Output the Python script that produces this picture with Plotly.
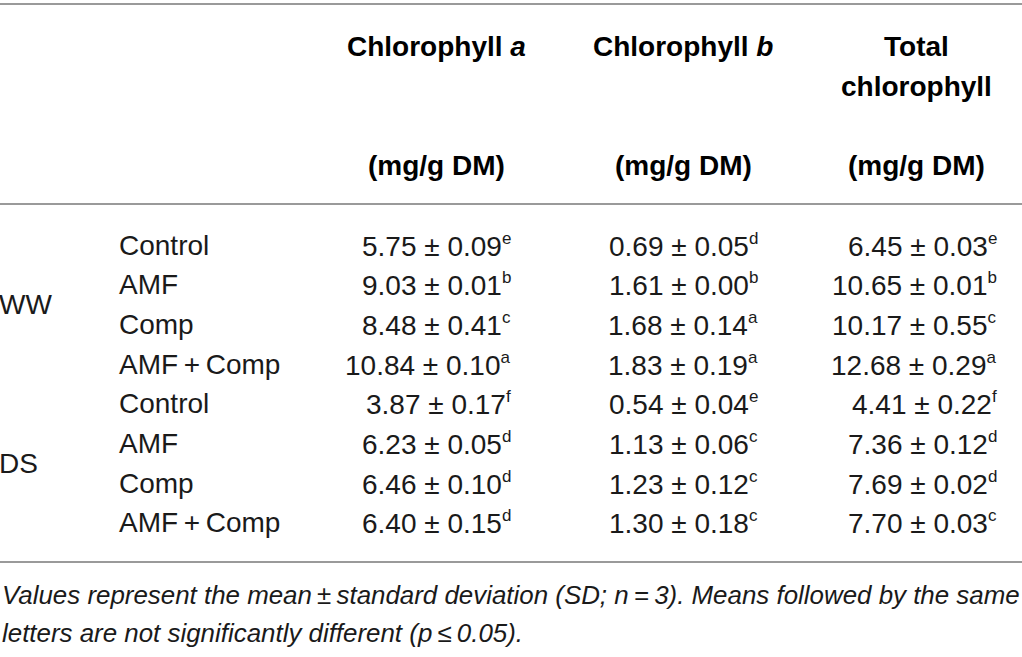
import plotly.graph_objects as go

# ---- data ----
groups = ["WW", "DS"]
treatments = ["Control", "AMF", "Comp", "AMF\u2009+\u2009Comp"] * 2
chl_a_mean = ["5.75", "9.03", "8.48", "10.84", "3.87", "6.23", "6.46", "6.40"]
chl_a_sd = ["0.09", "0.01", "0.41", "0.10", "0.17", "0.05", "0.10", "0.15"]
chl_a_let = ["e", "b", "c", "a", "f", "d", "d", "d"]
chl_b_mean = ["0.69", "1.61", "1.68", "1.83", "0.54", "1.13", "1.23", "1.30"]
chl_b_sd = ["0.05", "0.00", "0.14", "0.19", "0.04", "0.06", "0.12", "0.18"]
chl_b_let = ["d", "b", "a", "a", "e", "c", "c", "c"]
tot_mean = ["6.45", "10.65", "10.17", "12.68", "4.41", "7.36", "7.69", "7.70"]
tot_sd = ["0.03", "0.01", "0.55", "0.29", "0.22", "0.12", "0.02", "0.03"]
tot_let = ["e", "b", "c", "a", "f", "d", "d", "c"]
headers = [
    ["<b>Chlorophyll <i>a</i></b>", "", "<b>(mg/g DM)</b>"],
    ["<b>Chlorophyll <i>b</i></b>", "", "<b>(mg/g DM)</b>"],
    ["<b>Total</b>", "<b>chlorophyll</b>", "<b>(mg/g DM)</b>"],
]
footnote = [
    "<i>Values represent the mean\u2009±\u2009standard deviation (SD; n\u2009=\u20093). Means followed by the same</i>",
    "<i>letters are not significantly different (p\u2009\u2264\u20090.05).</i>",
]

FONT = "Liberation Sans"
TXT = "#1a1a1a"
LINE = "#9a9a9a"

fig = go.Figure()
ann = []

col_centers = [436, 683, 916]
col_right = [513, 760, 999]
header_y = [46, 86, 165]
row0, step = 245, 39.7

for c, hdr in enumerate(headers):
    for k, t in enumerate(hdr):
        if t:
            ann.append(dict(x=col_centers[c], y=header_y[k], text=t, xanchor="center",
                            yanchor="middle", showarrow=False,
                            font=dict(family=FONT, size=28, color="#000")))

cols = [(chl_a_mean, chl_a_sd, chl_a_let), (chl_b_mean, chl_b_sd, chl_b_let),
        (tot_mean, tot_sd, tot_let)]
for i, tr in enumerate(treatments):
    y = row0 + i * step
    ann.append(dict(x=117, y=y, text=tr, xanchor="left", yanchor="middle",
                    showarrow=False, font=dict(family=FONT, size=28, color=TXT)))
    for c, (mv, sv, lv) in enumerate(cols):
        ann.append(dict(x=col_right[c], y=y,
                        text=f"{mv[i]} ± {sv[i]}<sup><span style='font-size:17px'>{lv[i]}</span></sup>",
                        xanchor="right", yanchor="middle", showarrow=False,
                        font=dict(family=FONT, size=28, color=TXT)))

for g, gname in enumerate(groups):
    y = row0 + (g * 4 + 1.5) * step
    ann.append(dict(x=0, xshift=-3, y=y, text=gname, xanchor="left", yanchor="middle",
                    showarrow=False, font=dict(family=FONT, size=28, color=TXT)))

for k, t in enumerate(footnote):
    ann.append(dict(x=0, y=595 + k * 38, text=t, xanchor="left", yanchor="middle",
                    showarrow=False, font=dict(family=FONT, size=25.9, color=TXT)))

shapes = []
for yl in [4, 204, 562]:
    shapes.append(dict(type="line", xref="x", yref="y", x0=0, x1=1022, y0=yl, y1=yl,
                       line=dict(color=LINE, width=2)))

fig.update_layout(
    width=1022, height=657, margin=dict(l=0, r=0, t=0, b=0),
    paper_bgcolor="white", plot_bgcolor="white",
    xaxis=dict(range=[0, 1022], visible=False, fixedrange=True),
    yaxis=dict(range=[657, 0], visible=False, fixedrange=True),
    annotations=ann, shapes=shapes, showlegend=False,
)
fig.write_html("out.html", config={"displayModeBar": False},
               post_script="document.body.style.margin='0';document.body.style.overflow='hidden';")
